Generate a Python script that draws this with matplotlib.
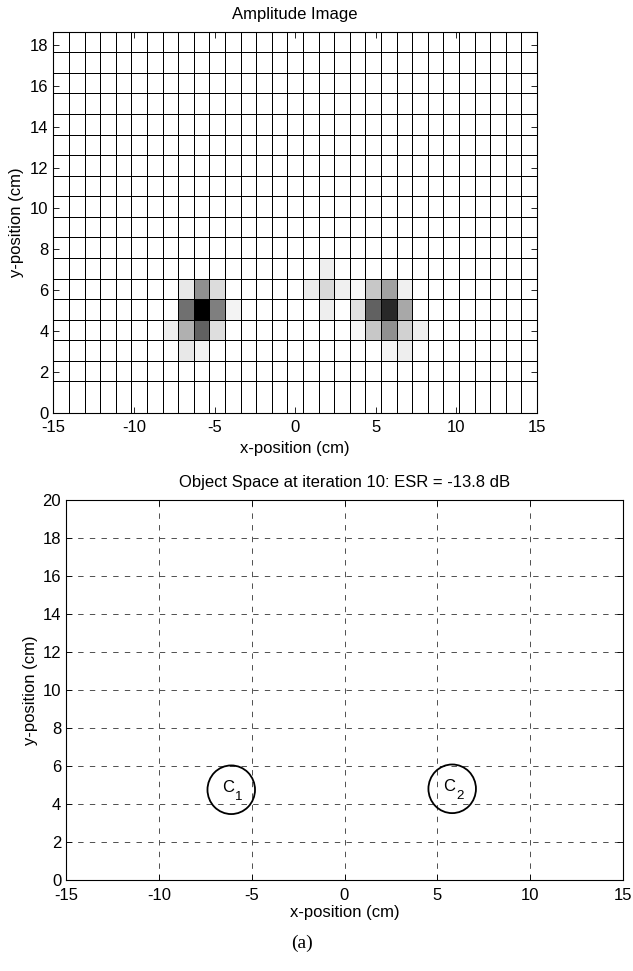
import numpy as np
import matplotlib
matplotlib.use("Agg")
import matplotlib.pyplot as plt
from matplotlib.patches import Circle

plt.rcParams['font.family'] = ['Liberation Sans', 'DejaVu Sans']
plt.rcParams['axes.unicode_minus'] = False

# ---------------- data ----------------
# amplitude image grid (31 columns across -15..15 cm, 18 rows)
n_cols = 31
x_edges = np.linspace(-15, 15, n_cols + 1)
y_edges = np.concatenate([[0.0], 1.53 + 1.007 * np.arange(18)])

# non-zero cells of the amplitude image: column index, row index, normalised amplitude
cell_cols = [8, 9, 10, 8, 9, 10, 11, 7, 8, 9, 10, 8, 9,
             17, 16, 17, 18, 19, 20, 21, 22, 17, 19, 20, 21, 22, 19, 20, 21, 22, 23, 21, 22]
cell_rows = [5, 5, 5, 4, 4, 4, 4, 3, 3, 3, 3, 2, 2,
             6, 5, 5, 5, 5, 5, 5, 5, 4, 4, 4, 4, 4, 3, 3, 3, 3, 3, 2, 2]
cell_amps = [0.09, 0.44, 0.14, 0.56, 1.00, 0.50, 0.05, 0.07, 0.31, 0.62, 0.13, 0.09, 0.05,
             0.07, 0.075, 0.15, 0.06, 0.03, 0.22, 0.37, 0.06, 0.07, 0.12, 0.62, 0.84, 0.34,
             0.035, 0.22, 0.435, 0.18, 0.07, 0.045, 0.07]

top_xticks = [-15, -10, -5, 0, 5, 10, 15]
top_yticks = [0, 2, 4, 6, 8, 10, 12, 14, 16, 18]

# object space
obj_labels = ['1', '2']
obj_x = [-6.1, 5.8]
obj_y = [4.75, 4.8]
obj_r = [1.28, 1.28]
bot_xticks = [-15, -10, -5, 0, 5, 10, 15]
bot_yticks = [0, 2, 4, 6, 8, 10, 12, 14, 16, 18, 20]

# ---------------- figure ----------------
fig = plt.figure(figsize=(6.33, 9.71), dpi=100)

W, H = 633, 971
def ax_rect(l, r, t, b):
    return [l / W, (H - b) / H, (r - l) / W, (b - t) / H]

fs = 12

def style_axis(ax, xl_y, yl_x):
    ax.tick_params(direction='in', length=4, width=0.6, labelsize=fs, top=True, right=True)
    ax.tick_params(axis='x', pad=5.5)
    ax.tick_params(axis='y', pad=3.5)
    ax.set_xlabel('x-position (cm)', fontsize=fs)
    ax.set_ylabel('y-position (cm)', fontsize=fs)
    ax.xaxis.set_label_coords(0.5, xl_y)
    ax.xaxis.label.set_va('center')
    ax.yaxis.set_label_coords(yl_x, 0.5)
    ax.yaxis.label.set_va('center')
    ax.yaxis.label.set_ha('center')
    for s in ax.spines.values():
        s.set_linewidth(0.8)

# top axes
ax1 = fig.add_axes(ax_rect(53.3, 537, 31.7, 412.7))
Z = np.zeros((len(y_edges) - 1, n_cols))
for c, r, a in zip(cell_cols, cell_rows, cell_amps):
    Z[r, c] = a
ax1.pcolormesh(x_edges, y_edges, Z, cmap='gray_r', vmin=0, vmax=1,
               edgecolors='k', linewidth=0.72, antialiased=True)
ax1.set_xlim(-15, 15)
ax1.set_ylim(0, y_edges[-1])
ax1.set_xticks(top_xticks)
ax1.set_yticks(top_yticks)
ax1.set_title('Amplitude Image', fontsize=fs, pad=9)
style_axis(ax1, (412.7 - 448) / 381, (17 - 53.3) / 483.7)

# bottom axes
ax2 = fig.add_axes(ax_rect(66, 623, 500, 880))
ax2.set_xlim(-15, 15)
ax2.set_ylim(0, 20)
ax2.set_xticks(bot_xticks)
ax2.set_yticks(bot_yticks)
ax2.grid(True, color='#333333', linestyle=(0, (6.5, 7.5)), linewidth=0.6)
for lab, cx, cy, r in zip(obj_labels, obj_x, obj_y, obj_r):
    ax2.add_patch(Circle((cx, cy), r, fill=False, edgecolor='k', linewidth=1.3, zorder=3))
    ax2.text(cx - 0.15, cy + 0.1, 'C', ha='center', va='center', fontsize=fs, zorder=4)
    ax2.text(cx + 0.4, cy - 0.4, lab, ha='center', va='center', fontsize=fs * 0.8, zorder=4)
ax2.set_title('Object Space at iteration 10: ESR = -13.8 dB', fontsize=fs, pad=9.4)
style_axis(ax2, (880 - 912) / 380, (30 - 66) / 557)

fig.text(302 / W, 1 - 943 / H, '(a)', ha='center', va='center',
         fontsize=14, family=['Liberation Serif', 'DejaVu Serif'])

fig.savefig('out.png', dpi=100)
